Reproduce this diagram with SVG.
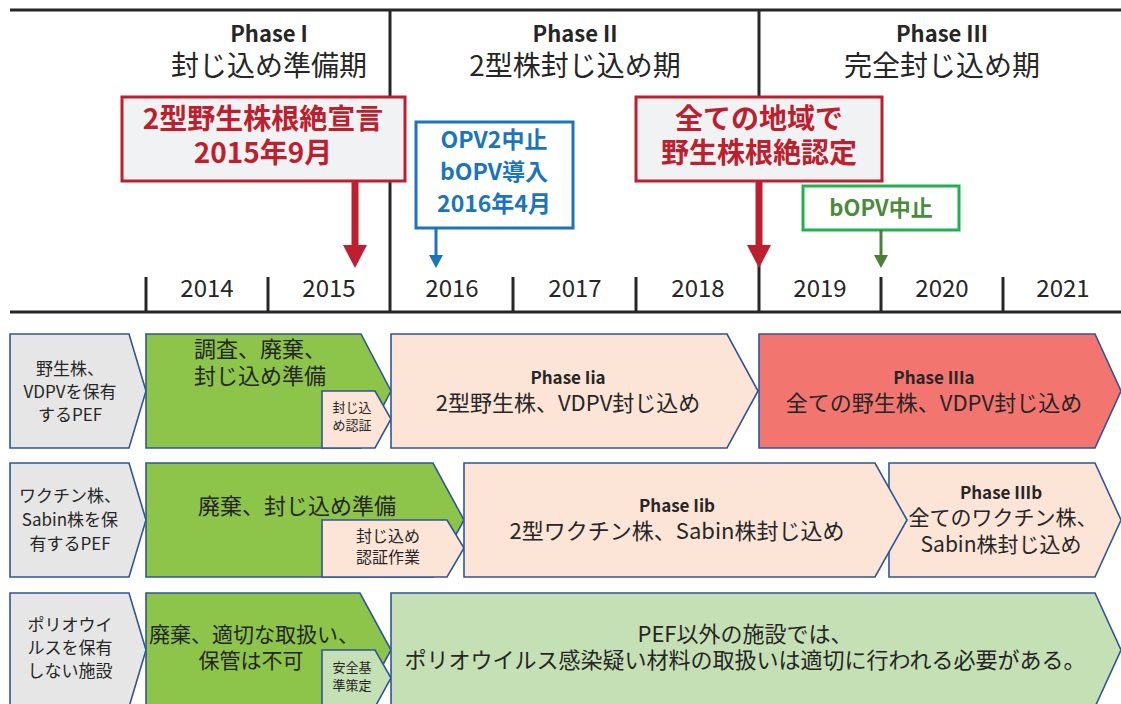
<svg xmlns="http://www.w3.org/2000/svg" width="1121" height="704" viewBox="0 0 1121 704">
<style>
text{font-family:"Noto Sans CJK JP","Noto Sans",sans-serif;fill:#262626;text-anchor:middle}
.axis{stroke:#262626;stroke-width:3;fill:none}
.ph{font-size:22px;font-weight:bold}
.phs{font-size:28px}
.yr{font-size:24px}
.box{stroke:#2F5597;stroke-width:1.6}
.lab{fill:#E7E6E6}
.grn{fill:#8DC44A}
.pch{fill:#FCE4D6}
.red{fill:#F2756F}
.lgr{fill:#C5E0B4}
.t17{font-size:17px}
.t22{font-size:22px}
.t13{font-size:13px}
.bt{font-size:17px;font-weight:bold}
.cr{fill:#F1F2F4;stroke:#BE1E2D;stroke-width:3}
.crt{font-size:28px;font-weight:bold;fill:#BE1E2D}
</style>
<g id="timeline">
<line class="axis" x1="10" y1="10" x2="1121" y2="10"/>
<line class="axis" x1="10" y1="312" x2="1121" y2="312"/>
<line class="axis" x1="390" y1="10" x2="390" y2="312"/>
<line class="axis" x1="759" y1="10" x2="759" y2="312"/>
<line class="axis" x1="146" y1="277" x2="146" y2="312"/>
<line class="axis" x1="268" y1="277" x2="268" y2="312"/>
<line class="axis" x1="513" y1="277" x2="513" y2="312"/>
<line class="axis" x1="636" y1="277" x2="636" y2="312"/>
<line class="axis" x1="881" y1="277" x2="881" y2="312"/>
<line class="axis" x1="1003" y1="277" x2="1003" y2="312"/>
<text class="yr" x="207" y="297">2014</text>
<text class="yr" x="329" y="297">2015</text>
<text class="yr" x="452" y="297">2016</text>
<text class="yr" x="575" y="297">2017</text>
<text class="yr" x="698" y="297">2018</text>
<text class="yr" x="820" y="297">2019</text>
<text class="yr" x="942" y="297">2020</text>
<text class="yr" x="1063" y="297">2021</text>
</g>
<g id="phase1"><text class="ph" x="269" y="42">Phase I</text><text class="phs" x="269" y="76">封じ込め準備期</text></g>
<g id="phase2"><text class="ph" x="575" y="42">Phase II</text><text class="phs" x="575" y="76">2型株封じ込め期</text></g>
<g id="phase3"><text class="ph" x="942" y="42">Phase III</text><text class="phs" x="942" y="76">完全封じ込め期</text></g>
<g id="callout-wild2">
<rect class="cr" x="122" y="97" width="283" height="84"/>
<text class="crt" x="263" y="129">2型野生株根絶宣言</text>
<text class="crt" x="263" y="163">2015年9月</text>
</g>
<g id="callout-opv2">
<rect x="416" y="122" width="157" height="106" fill="#FFFFFF" stroke="#1B75BC" stroke-width="3"/>
<text x="494" y="148" font-size="23" font-weight="bold" style="fill:#1B75BC">OPV2中止</text>
<text x="494" y="180" font-size="23" font-weight="bold" style="fill:#1B75BC">bOPV導入</text>
<text x="494" y="212" font-size="23" font-weight="bold" style="fill:#1B75BC">2016年4月</text>
</g>
<g id="callout-certify">
<rect class="cr" x="636" y="97" width="246" height="84"/>
<text class="crt" x="759" y="129">全ての地域で</text>
<text class="crt" x="759" y="163">野生株根絶認定</text>
</g>
<g id="callout-bopv">
<rect x="803" y="186" width="156" height="44" fill="#FFFFFF" stroke="#22B14C" stroke-width="3"/>
<text x="881" y="216" font-size="22" font-weight="bold" style="fill:#4A8B3B">bOPV中止</text>
</g>
<g id="connectors">
<line x1="355" y1="181" x2="355" y2="247" stroke="#BE1E2D" stroke-width="7"/>
<polygon points="343,245 367,245 355,268" fill="#BE1E2D"/>
<line x1="436" y1="228" x2="436" y2="257" stroke="#1B75BC" stroke-width="3"/>
<polygon points="429,255 443,255 436,268" fill="#1B75BC"/>
<line x1="759" y1="181" x2="759" y2="247" stroke="#BE1E2D" stroke-width="7"/>
<polygon points="747,245 771,245 759,268" fill="#BE1E2D"/>
<line x1="881" y1="230" x2="881" y2="257" stroke="#4A7F35" stroke-width="3"/>
<polygon points="874,255 888,255 881,268" fill="#4A7F35"/>
</g>
<g id="row1-label">
<polygon class="box lab" points="10,334 129,334 146,391 129,448 10,448"/>
<text class="t17" x="70" y="375">野生株、</text>
<text class="t17" x="70" y="398">VDPVを保有</text>
<text class="t17" x="70" y="421">するPEF</text>
</g>
<g id="row1-phase1">
<polygon class="box grn" points="146,334 361,334 391,391 361,448 146,448"/>
<text class="t22" x="194" y="357" style="text-anchor:start">調査、廃棄、</text>
<text class="t22" x="194" y="384" style="text-anchor:start">封じ込め準備</text>
</g>
<g id="row1-cert">
<polygon class="box pch" points="322,391 375,391 391,419 375,448 322,448"/>
<text class="t13" x="352" y="412">封じ込</text>
<text class="t13" x="352" y="430">め認証</text>
</g>
<g id="row1-phase2a">
<polygon class="box pch" points="391,334 727,334 758,391 727,448 391,448"/>
<text class="bt" x="568" y="384">Phase Iia</text>
<text class="t22" x="568" y="411">2型野生株、VDPV封じ込め</text>
</g>
<g id="row1-phase3a">
<polygon class="box red" points="759,334 1095,334 1121,391 1095,448 759,448"/>
<text class="bt" x="934" y="384">Phase IIIa</text>
<text class="t22" x="934" y="411">全ての野生株、VDPV封じ込め</text>
</g>
<g id="row2-label">
<polygon class="box lab" points="10,463 129,463 146,520 129,577 10,577"/>
<text class="t17" x="70" y="502">ワクチン株、</text>
<text class="t17" x="70" y="526">Sabin株を保</text>
<text class="t17" x="70" y="550">有するPEF</text>
</g>
<g id="row2-phase1">
<polygon class="box grn" points="146,463 433,463 464,520 433,577 146,577"/>
<text class="t22" x="297" y="514">廃棄、封じ込め準備</text>
</g>
<g id="row2-cert">
<polygon class="box pch" points="322,520 447,520 464,548 447,577 322,577"/>
<text x="388" y="542" font-size="16">封じ込め</text>
<text x="388" y="563" font-size="16">認証作業</text>
</g>
<g id="row2-phase3b">
<polygon class="box pch" points="889,463 1095,463 1121,520 1095,577 889,577"/>
<text class="bt" x="1001" y="499">Phase IIIb</text>
<text x="1003" y="525" font-size="21">全てのワクチン株、</text>
<text x="1001" y="552" font-size="21">Sabin株封じ込め</text>
</g>
<g id="row2-phase2b">
<polygon class="box pch" points="464,463 875,463 907,520 875,577 464,577"/>
<text class="bt" x="677" y="512">Phase Iib</text>
<text class="t22" x="677" y="539">2型ワクチン株、Sabin株封じ込め</text>
</g>
<g id="row3-label">
<polygon class="box lab" points="10,593 129,593 146,650 129,707 10,707"/>
<text class="t17" x="70" y="631">ポリオウイ</text>
<text class="t17" x="70" y="654">ルスを保有</text>
<text class="t17" x="70" y="677">しない施設</text>
</g>
<g id="row3-phase1">
<polygon class="box grn" points="146,593 360,593 391,650 360,707 146,707"/>
<text x="149" y="642" font-size="21" style="text-anchor:start">廃棄、適切な取扱い、</text>
<text x="251" y="668" font-size="21">保管は不可</text>
</g>
<g id="row3-safety">
<polygon class="box lgr" points="322,650 375,650 391,678 375,707 322,707"/>
<text class="t13" x="352" y="672">安全基</text>
<text class="t13" x="352" y="690">準策定</text>
</g>
<g id="row3-others">
<polygon class="box lgr" points="391,593 1095,593 1121,650 1095,707 391,707"/>
<text class="t22" x="745" y="642">PEF以外の施設では、</text>
<text class="t22" x="745" y="668">ポリオウイルス感染疑い材料の取扱いは適切に行われる必要がある。</text>
</g>
</svg>
